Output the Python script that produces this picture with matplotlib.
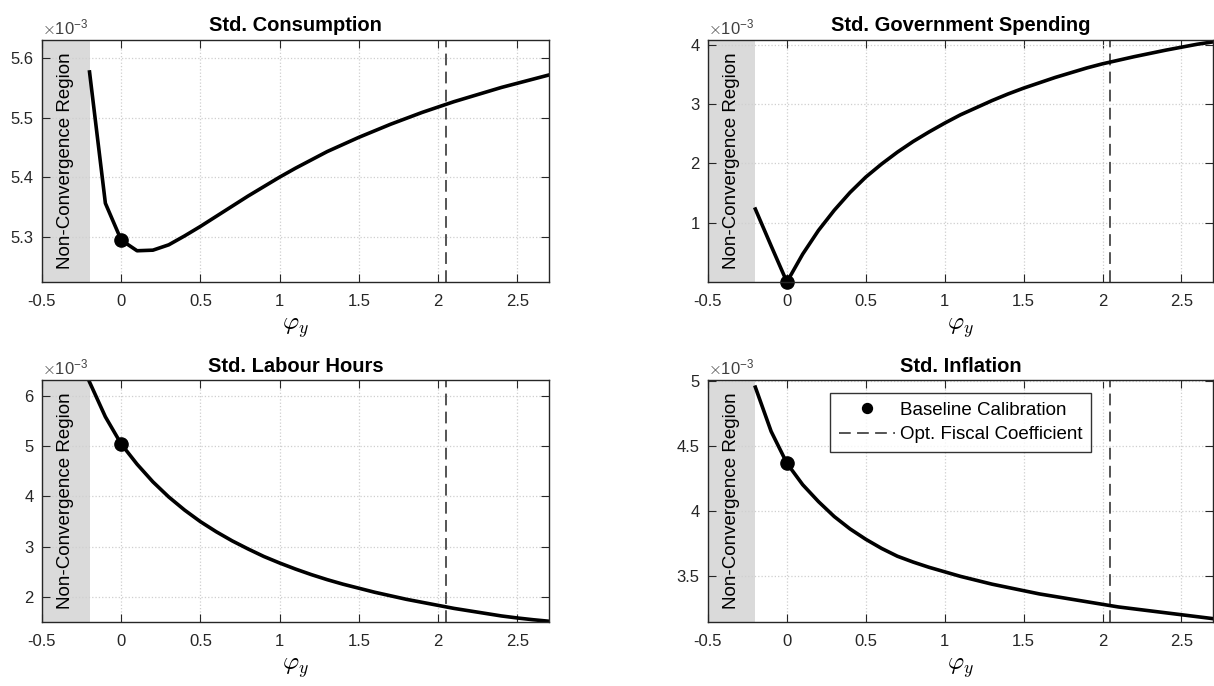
import numpy as np
import matplotlib
matplotlib.use("Agg")
import matplotlib.pyplot as plt

plt.rcParams['font.family'] = ['Liberation Sans', 'DejaVu Sans']
plt.rcParams['mathtext.fontset'] = 'cm'
plt.rcParams['axes.unicode_minus'] = False

# fiscal coefficient grid (phi_y)
phi_y = [-0.2, -0.1, 0.0, 0.1, 0.2, 0.3, 0.4, 0.5, 0.6, 0.7, 0.8, 0.9, 1.0,
         1.1, 1.2, 1.3, 1.4, 1.5, 1.6, 1.7, 1.8, 1.9, 2.0, 2.1, 2.2, 2.3,
         2.4, 2.5, 2.6, 2.7]

# standard deviations, in units of 1e-3
std_consumption = [5.577, 5.356, 5.294, 5.276, 5.277, 5.286, 5.301, 5.317,
                   5.334, 5.351, 5.368, 5.384, 5.400, 5.415, 5.429, 5.443,
                   5.455, 5.467, 5.478, 5.489, 5.499, 5.509, 5.518, 5.527,
                   5.535, 5.543, 5.551, 5.558, 5.565, 5.572]
std_gov = [1.23, 0.61, 0.0, 0.47, 0.87, 1.21, 1.51, 1.77, 1.99, 2.19, 2.37,
           2.53, 2.68, 2.82, 2.94, 3.06, 3.17, 3.27, 3.36, 3.45, 3.53, 3.61,
           3.68, 3.74, 3.80, 3.855, 3.91, 3.96, 4.01, 4.05]
std_labour = [6.27, 5.58, 5.04, 4.64, 4.29, 3.99, 3.73, 3.50, 3.30, 3.12,
              2.96, 2.81, 2.68, 2.56, 2.45, 2.35, 2.26, 2.18, 2.10, 2.03,
              1.96, 1.90, 1.84, 1.78, 1.73, 1.68, 1.63, 1.59, 1.555, 1.525]
std_inflation = [4.95, 4.61, 4.365, 4.20, 4.07, 3.955, 3.86, 3.78, 3.71, 3.65,
                 3.605, 3.565, 3.53, 3.495, 3.465, 3.435, 3.41, 3.385, 3.36,
                 3.34, 3.32, 3.30, 3.28, 3.26, 3.245, 3.23, 3.215, 3.20,
                 3.185, 3.17]

baseline_phi = 0.0
opt_phi = 2.05
nonconv_edge = -0.2

titles = ["Std. Consumption", "Std. Government Spending",
          "Std. Labour Hours", "Std. Inflation"]
series = [std_consumption, std_gov, std_labour, std_inflation]
ylims = [(5.2234, 5.6317), (0.0, 4.09), (1.52, 6.31), (3.148, 5.005)]
yticks = [[5.3, 5.4, 5.5, 5.6], [1, 2, 3, 4], [2, 3, 4, 5, 6],
          [3.5, 4, 4.5, 5]]
xticks = [-0.5, 0, 0.5, 1, 1.5, 2, 2.5]

W, H = 1214, 686
positions = [
    (42, 39.5, 507, 242.5),
    (708, 39.5, 505, 242.5),
    (42, 380, 507, 241.5),
    (708, 380, 505, 241.5),
]

fig = plt.figure(figsize=(W / 100, H / 100), dpi=100)
dark = '#262626'

for i, (title, vals) in enumerate(zip(titles, series)):
    x0, top, w, h = positions[i]
    ax = fig.add_axes([x0 / W, 1 - (top + h) / H, w / W, h / H])
    ax.set_xlim(-0.5, 2.7)
    ax.set_ylim(*ylims[i])

    ax.axvspan(-0.5, nonconv_edge, color='#dadada', lw=0, zorder=0)
    ax.grid(True, linestyle=':', color='#cfcfcf', linewidth=0.9, zorder=1)

    ax.plot(phi_y, vals, color='black', lw=2.6, zorder=3)
    base_val = vals[phi_y.index(baseline_phi)]
    ax.plot([baseline_phi], [base_val], 'o', color='black', markersize=9.5,
            zorder=4, label='Baseline Calibration', clip_on=False)
    ax.axvline(opt_phi, color='#474747', lw=1.3, linestyle=(0, (6.5, 3.5)),
               zorder=2, label='Opt. Fiscal Coefficient')

    ymid = 0.5 * (ylims[i][0] + ylims[i][1])
    ax.text(-0.35, ymid, "Non-Convergence Region", rotation=90,
            ha='center', va='center', fontsize=13.5, color='black', zorder=5)

    ax.set_xticks(xticks)
    ax.set_xticklabels(["-0.5", "0", "0.5", "1", "1.5", "2", "2.5"])
    ax.set_yticks(yticks[i])
    ax.set_yticklabels([f"{t:g}" for t in yticks[i]])
    ax.tick_params(direction='in', length=6, width=0.8, colors=dark,
                   labelsize=12, top=True, right=True)
    ax.tick_params(axis='x', pad=9)
    ax.tick_params(axis='y', pad=6)
    for sp in ax.spines.values():
        sp.set_color(dark)
        sp.set_linewidth(1.0)
        sp.set_zorder(6)

    ax.set_title(title, fontsize=14.5, fontweight='bold', pad=6)
    ax.set_xlabel(r'$\varphi_y$', fontsize=18, labelpad=5)
    ax.text(0.0, 1.01, r'$\times\mathregular{10^{-3}}$', transform=ax.transAxes,
            fontsize=12, color='#404040', ha='left', va='bottom')

    if i == 3:
        leg = ax.legend(loc='upper center', bbox_to_anchor=(0.5, 0.946),
                        borderaxespad=0, fontsize=13.5, handlelength=3.0,
                        frameon=True, fancybox=False, edgecolor='black',
                        borderpad=0.45, handletextpad=0.25, labelspacing=0.4,
                        markerscale=0.75)
        leg.get_frame().set_linewidth(1.0)

fig.savefig("out.png", dpi=100)
